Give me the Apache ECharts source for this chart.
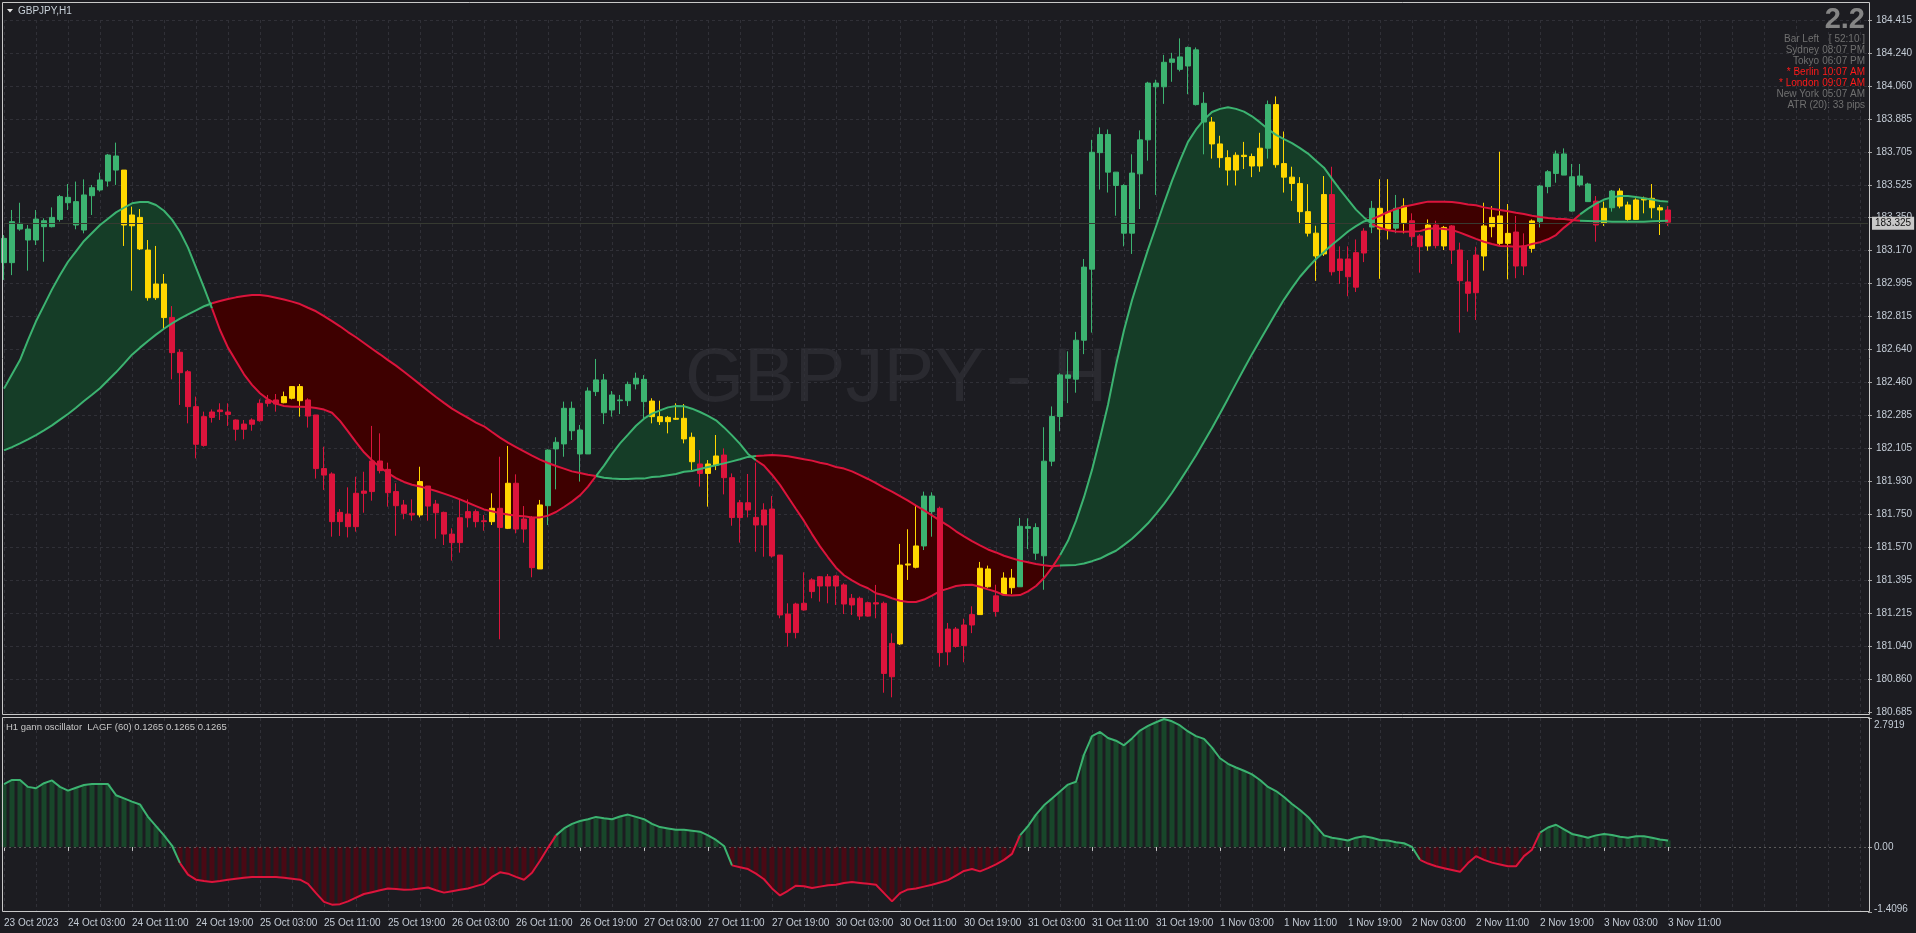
<!DOCTYPE html>
<html>
<head>
<meta charset="utf-8">
<script src="https://cdn.jsdelivr.net/npm/echarts@6.0.0/dist/echarts.min.js"></script>
<style>
html,body{margin:0;padding:0;background:#1c1c21;overflow:hidden;}
#chart{width:1916px;height:933px;}
</style>
</head>
<body>
<div id="chart"></div>
<script>
// ---------------- DATA ----------------
const timeLabels = ['23 Oct 2023','24 Oct 03:00','24 Oct 11:00','24 Oct 19:00','25 Oct 03:00','25 Oct 11:00','25 Oct 19:00',
  '26 Oct 03:00','26 Oct 11:00','26 Oct 19:00','27 Oct 03:00','27 Oct 11:00','27 Oct 19:00','30 Oct 03:00','30 Oct 11:00',
  '30 Oct 19:00','31 Oct 03:00','31 Oct 11:00','31 Oct 19:00','1 Nov 03:00','1 Nov 11:00','1 Nov 19:00','2 Nov 03:00',
  '2 Nov 11:00','2 Nov 19:00','3 Nov 03:00','3 Nov 11:00'];

const priceTicks = ['180.685','180.860','181.040','181.215','181.395','181.570','181.750','181.930','182.105','182.285',
  '182.460','182.640','182.815','182.995','183.170','183.350','183.525','183.705','183.885','184.060','184.240','184.415'];

const oscTickValues = [-1.4096, 0, 2.7919];
const oscTickLabels = ['-1.4096', '0.00', '2.7919'];

const opens = [183.107,183.107,183.288,183.229,183.229,183.301,183.301,183.340,183.430,183.310,
183.283,183.468,183.499,183.547,183.606,183.606,183.306,183.351,183.175,182.918,
182.992,182.812,182.624,182.519,182.331,182.122,182.273,182.304,182.302,182.259,
182.209,182.236,182.255,182.349,182.367,182.352,182.376,182.439,182.367,182.286,
181.997,181.968,181.711,181.752,181.684,181.864,181.873,182.038,181.993,181.873,
181.801,181.756,181.747,181.903,181.806,181.761,181.644,181.598,181.732,181.765,
181.716,181.711,181.783,181.675,181.918,181.725,181.734,181.456,181.797,182.103,
182.130,182.201,182.076,182.076,182.412,182.475,182.313,182.363,182.363,182.453,
182.478,182.361,182.277,182.250,182.263,182.268,182.166,182.022,181.971,182.016,
182.070,181.948,181.733,181.813,181.734,181.693,181.779,181.531,181.213,181.113,
181.235,181.334,181.364,181.414,181.364,181.370,181.262,181.298,181.202,181.274,
181.271,180.875,181.052,181.477,181.465,181.580,181.849,181.783,181.009,181.132,
181.043,181.154,181.210,181.360,181.311,181.317,181.355,181.360,181.675,181.679,
181.527,182.037,182.278,182.484,182.479,182.689,183.072,183.700,183.798,183.595,
183.523,183.266,183.586,183.769,184.075,184.055,184.187,184.149,184.167,184.254,
183.966,183.865,183.747,183.673,183.606,183.686,183.679,183.628,183.724,183.959,
183.641,183.568,183.534,183.382,183.266,183.154,183.474,183.065,183.127,182.975,
183.159,183.299,183.400,183.288,183.293,183.323,183.333,183.251,183.197,183.310,
183.197,183.305,183.175,183.003,182.945,183.143,183.301,183.359,183.211,183.272,
183.089,183.184,183.328,183.517,183.588,183.693,183.570,183.526,183.531,183.439,
183.319,183.403,183.493,183.418,183.340,183.445,183.454,183.403,183.391];

const closes = [183.238,183.328,183.319,183.288,183.342,183.333,183.351,183.463,183.459,183.436,
183.472,183.511,183.553,183.687,183.682,183.310,183.364,183.181,182.918,182.992,
182.811,182.622,182.514,182.331,182.128,182.277,182.302,182.313,182.289,182.209,
182.237,182.259,182.349,182.367,182.345,182.385,182.439,182.363,182.280,181.997,
181.962,181.711,181.761,181.684,181.864,181.876,182.038,181.986,181.867,181.797,
181.756,181.747,181.927,181.795,181.759,181.644,181.598,181.732,181.765,181.711,
181.711,181.783,181.680,181.918,181.671,181.671,181.463,181.801,182.097,182.139,
182.322,182.322,182.205,182.415,182.475,182.298,182.394,182.367,182.451,182.484,
182.358,182.277,182.250,182.273,182.268,182.157,182.034,181.971,182.022,182.065,
181.948,181.733,181.813,181.774,181.693,181.774,181.526,181.208,181.113,181.267,
181.271,181.397,181.414,181.364,181.418,181.267,181.298,181.202,181.274,181.267,
180.893,181.055,181.477,181.483,181.580,181.849,181.765,181.005,181.132,181.038,
181.154,181.210,181.460,181.456,181.226,181.407,181.407,181.686,181.684,181.541,
182.037,182.278,182.502,182.502,182.689,183.083,183.702,183.798,183.595,183.523,
183.266,183.590,183.769,184.075,184.055,184.187,184.205,184.216,184.267,183.959,
183.865,183.747,183.673,183.606,183.686,183.679,183.628,183.724,183.959,183.635,
183.568,183.534,183.382,183.266,183.143,183.474,183.058,183.127,183.031,183.161,
183.277,183.400,183.288,183.378,183.400,183.412,183.247,183.193,183.310,183.199,
183.297,183.175,183.010,182.942,183.148,183.305,183.351,183.211,183.265,183.089,
183.197,183.332,183.520,183.597,183.693,183.579,183.385,183.574,183.436,183.310,
183.400,183.493,183.412,183.340,183.445,183.454,183.403,183.391,183.325];

const lows = [183.014,183.040,183.279,183.064,183.202,183.112,183.297,183.328,183.391,183.287,
183.265,183.364,183.490,183.517,183.526,183.197,182.956,183.175,182.902,182.906,
182.744,182.478,182.340,182.241,182.052,182.115,182.245,182.259,182.227,182.148,
182.155,182.201,182.250,182.331,182.304,182.349,182.370,182.277,182.218,181.943,
181.882,181.630,181.634,181.626,181.657,181.759,181.824,181.971,181.792,181.635,
181.724,181.716,181.734,181.716,181.619,181.585,181.501,181.544,181.680,181.680,
181.662,181.693,181.077,181.671,181.648,181.598,181.411,181.456,181.693,181.885,
182.061,182.151,181.927,182.076,182.388,182.237,182.277,182.291,182.334,182.424,
182.268,182.241,182.232,182.187,182.259,182.133,181.989,181.900,181.792,181.989,
181.858,181.689,181.598,181.734,181.549,181.522,181.517,181.190,181.037,181.082,
181.231,181.298,181.280,181.271,181.262,181.213,181.208,181.181,181.199,181.190,
180.789,180.764,181.046,181.397,181.459,181.558,181.630,180.929,180.937,181.031,
180.953,181.110,181.210,181.355,181.199,181.317,181.322,181.360,181.563,181.505,
181.344,182.010,182.198,182.350,182.406,182.614,182.730,183.501,183.485,183.360,
183.195,183.154,183.396,183.657,183.472,183.963,184.082,184.138,184.015,183.954,
183.691,183.668,183.619,183.523,183.523,183.612,183.568,183.597,183.668,183.619,
183.485,183.440,183.315,183.248,183.009,183.143,183.038,182.993,182.926,182.949,
183.110,183.266,183.020,183.232,183.266,183.265,183.197,183.053,183.172,183.184,
183.175,183.100,182.730,182.843,182.798,183.064,183.244,183.202,183.017,183.023,
183.040,183.161,183.297,183.481,183.538,183.579,183.382,183.517,183.436,183.220,
183.305,183.382,183.400,183.333,183.337,183.373,183.346,183.256,183.305];

const highs = [183.256,183.391,183.430,183.310,183.391,183.346,183.405,183.472,183.531,183.544,
183.556,183.526,183.592,183.693,183.754,183.606,183.409,183.396,183.229,183.197,
183.046,182.873,182.640,182.528,182.385,182.304,182.316,182.349,182.349,182.262,
182.259,182.268,182.370,182.394,182.399,182.412,182.442,182.453,182.376,182.286,
182.115,181.977,181.779,181.896,181.953,181.980,182.227,182.187,182.029,181.918,
181.828,181.831,182.007,181.903,181.828,181.765,181.675,181.828,181.831,181.777,
181.747,181.864,182.061,182.119,181.966,181.795,181.741,181.828,182.101,182.166,
182.358,182.358,182.232,182.435,182.588,182.507,182.415,182.394,182.466,182.514,
182.501,182.376,182.363,182.281,182.349,182.345,182.191,182.097,182.043,182.178,
182.106,181.971,181.828,181.968,182.029,181.810,181.849,181.531,181.271,181.274,
181.438,181.406,181.418,181.429,181.423,181.379,181.321,181.307,181.280,181.370,
181.280,181.109,181.591,181.670,181.801,181.873,181.869,181.792,181.165,181.143,
181.188,181.255,181.494,181.474,181.371,181.438,181.456,181.731,181.729,181.702,
182.220,182.332,182.511,182.629,182.734,183.127,183.769,183.836,183.825,183.595,
183.530,183.691,183.820,184.082,184.093,184.227,184.238,184.316,184.272,184.267,
184.026,183.892,183.791,183.713,183.702,183.758,183.695,183.807,183.981,184.003,
183.814,183.624,183.568,183.530,183.306,183.574,183.624,183.195,183.195,183.232,
183.293,183.440,183.557,183.557,183.472,183.454,183.373,183.261,183.340,183.333,
183.305,183.310,183.215,183.121,183.193,183.430,183.412,183.705,183.423,183.359,
183.265,183.340,183.526,183.606,183.711,183.723,183.639,183.639,183.538,183.466,
183.436,183.499,183.508,183.436,183.454,183.463,183.531,183.418,183.412];

// candle colour class per bar, as runs: g = green, y = yellow, r = red
const candleColorRuns = [['g',15],['y',6],['r',14],['y',3],['r',14],['y',1],['r',8],['y',1],['r',1],['y',1],['r',3],['y',1],
  ['g',13],['y',6],['r',1],['y',2],['r',22],['y',3],['g',2],['r',5],['y',2],['r',1],['y',2],['g',24],['y',7],['g',1],['y',7],
  ['r',5],['g',1],['y',2],['g',1],['y',1],['r',2],['y',1],['r',1],['y',1],['r',4],['y',4],['r',2],['y',1],['g',7],['r',1],
  ['y',1],['g',1],['y',6],['r',1]];

const fastLine = [182.428,182.505,182.582,182.690,182.791,182.877,182.963,183.040,183.112,183.168,
183.224,183.267,183.310,183.344,183.378,183.403,183.427,183.434,183.434,183.418,
183.387,183.339,183.274,183.188,183.080,182.972,182.861,182.744,182.649,182.577,
182.505,182.448,182.403,182.370,182.347,182.334,182.331,182.331,182.329,182.324,
182.315,182.298,182.254,182.198,182.140,182.085,182.042,182.004,181.973,181.946,
181.925,181.910,181.900,181.889,181.876,181.862,181.847,181.831,181.813,181.795,
181.777,181.767,181.756,181.749,181.743,181.740,181.734,181.734,181.743,181.763,
181.790,181.819,181.853,181.900,181.957,182.013,182.076,182.133,182.180,182.228,
182.266,182.293,182.311,182.327,182.334,182.333,182.320,182.302,182.281,182.257,
182.219,182.176,182.130,182.076,182.042,182.013,181.964,181.909,181.844,181.779,
181.715,181.644,181.578,181.519,181.463,181.422,181.395,181.370,181.352,181.325,
181.314,181.298,181.285,181.278,181.278,181.291,181.312,181.337,181.350,181.364,
181.369,181.371,181.360,181.346,181.333,181.315,181.313,181.315,181.335,181.364,
181.407,181.463,181.530,181.608,181.715,181.843,181.990,182.160,182.341,182.555,
182.743,182.904,183.043,183.177,183.302,183.427,183.548,183.657,183.758,183.825,
183.878,183.919,183.936,183.945,183.936,183.921,183.896,183.863,183.827,183.796,
183.773,183.751,183.724,183.695,183.657,183.619,183.559,183.501,183.447,183.393,
183.351,183.315,183.295,183.282,183.275,183.273,183.275,183.277,183.290,183.292,
183.288,183.283,183.269,183.252,183.235,183.220,183.208,183.197,183.195,183.193,
183.195,183.208,183.217,183.233,183.256,183.296,183.330,183.367,183.398,183.425,
183.447,183.459,183.466,183.466,183.461,183.454,183.447,183.439,183.436];

const slowLine = [182.095,182.113,182.133,182.155,182.178,182.203,182.230,182.261,182.291,182.325,
182.361,182.395,182.430,182.473,182.516,182.563,182.611,182.649,182.685,182.719,
182.751,182.780,182.805,182.828,182.850,182.872,182.888,182.900,182.911,182.920,
182.927,182.933,182.933,182.927,182.918,182.908,182.897,182.884,182.864,182.845,
182.819,182.792,182.764,182.733,182.705,182.674,182.643,182.613,182.582,182.552,
182.519,182.485,182.451,182.417,182.383,182.351,182.320,182.295,182.270,182.245,
182.225,182.194,182.164,182.137,182.113,182.090,182.067,182.045,182.027,182.011,
181.997,181.982,181.973,181.964,181.957,181.948,181.943,181.941,181.941,181.943,
181.943,181.952,181.954,181.961,181.968,181.980,181.984,181.995,182.006,182.015,
182.025,182.036,182.047,182.060,182.065,182.067,182.070,182.067,182.063,182.056,
182.047,182.040,182.029,182.020,182.006,181.997,181.982,181.962,181.941,181.919,
181.894,181.873,181.849,181.824,181.797,181.772,181.745,181.717,181.690,181.659,
181.632,181.606,181.583,181.561,181.545,181.527,181.514,181.501,181.492,181.483,
181.476,181.471,181.474,181.476,181.478,181.485,181.498,181.512,181.534,181.554,
181.586,181.619,181.659,181.702,181.753,181.807,181.867,181.932,181.999,182.068,
182.142,182.216,182.294,182.374,182.455,182.535,182.614,182.689,182.763,182.837,
182.908,182.971,183.031,183.081,183.127,183.165,183.203,183.239,183.275,183.304,
183.329,183.342,183.360,183.380,183.396,183.409,183.418,183.427,183.436,183.436,
183.436,183.434,183.429,183.421,183.416,183.405,183.398,183.391,183.384,183.376,
183.369,183.360,183.353,183.348,183.344,183.342,183.337,183.333,183.332,183.330,
183.330,183.328,183.328,183.328,183.328,183.328,183.330,183.332,183.333];

const oscValues = [1.36,1.45,1.45,1.3,1.27,1.38,1.44,1.3,1.22,1.28,
1.34,1.36,1.36,1.36,1.12,1.05,0.98,0.92,0.65,0.45,
0.25,0.03,-0.35,-0.6,-0.71,-0.74,-0.76,-0.74,-0.71,-0.69,
-0.67,-0.65,-0.65,-0.65,-0.65,-0.67,-0.69,-0.71,-0.8,-1.0,
-1.19,-1.25,-1.24,-1.18,-1.1,-1.02,-0.98,-0.94,-0.9,-0.91,
-0.93,-0.92,-0.9,-0.88,-0.94,-0.99,-0.96,-0.93,-0.9,-0.85,
-0.8,-0.65,-0.55,-0.58,-0.65,-0.71,-0.56,-0.3,-0.02,0.25,
0.4,0.5,0.56,0.6,0.65,0.62,0.6,0.66,0.7,0.65,
0.6,0.5,0.43,0.4,0.37,0.37,0.35,0.33,0.25,0.15,
0.02,-0.4,-0.44,-0.48,-0.58,-0.7,-0.9,-1.05,-0.95,-0.84,
-0.85,-0.89,-0.86,-0.83,-0.82,-0.78,-0.76,-0.78,-0.8,-0.82,
-1.0,-1.18,-1.0,-0.92,-0.9,-0.86,-0.82,-0.77,-0.72,-0.62,
-0.52,-0.48,-0.53,-0.46,-0.38,-0.28,-0.15,0.25,0.45,0.7,
0.9,1.05,1.2,1.35,1.41,2.0,2.4,2.49,2.36,2.3,
2.2,2.35,2.52,2.62,2.7,2.77,2.72,2.63,2.5,2.4,
2.34,2.15,1.92,1.8,1.72,1.65,1.57,1.45,1.3,1.21,
1.08,0.93,0.8,0.65,0.45,0.25,0.2,0.17,0.14,0.2,
0.23,0.2,0.15,0.14,0.1,0.08,0,-0.28,-0.36,-0.42,
-0.46,-0.5,-0.54,-0.35,-0.2,-0.28,-0.34,-0.38,-0.42,-0.42,
-0.2,-0.06,0.31,0.42,0.48,0.38,0.28,0.24,0.2,0.25,
0.28,0.26,0.22,0.2,0.23,0.23,0.2,0.16,0.14];

const infoRows = [
  ['Bar Left', '[ 52:10 ]', false],
  ['Sydney', '08:07 PM', false],
  ['Tokyo', '06:07 PM', false],
  ['* Berlin', '10:07 AM', true],
  ['* London', '09:07 AM', true],
  ['New York', '05:07 AM', false]
];
const atrText = 'ATR (20): 33 pips';
const spreadText = '2.2';
const symbolTitle = 'GBPJPY,H1';
const watermarkText = 'GBPJPY - H1';
const oscTitle = 'H1 gann oscillator  LAGF (60) 0.1265 0.1265 0.1265';

// ---------------- BUILD ----------------
const N_SLOTS = 234;           // bars + empty right shift area
const slots = Array.from({length: N_SLOTS}, (_, i) => String(i));
const PMIN = parseFloat(priceTicks[0]);
const PMAX = parseFloat(priceTicks[priceTicks.length - 1]);
const PSTEP = (PMAX - PMIN) / (priceTicks.length - 1);

const COL = {g: '#3cb371', y: '#ffd700', r: '#dc143c'};
const candleColors = candleColorRuns.map(([c, n]) => c.repeat(n)).join('');
const candleData = opens.map((o, i) => {
  const c = COL[candleColors[i]] || COL.r;
  return {value: [o, closes[i], lows[i], highs[i]],
    itemStyle: {color: c, color0: c, borderColor: c, borderColor0: c}};
});

const bandBase = fastLine.map((f, i) => Math.min(f, slowLine[i]));
const bandUp = fastLine.map((f, i) => Math.max(f - slowLine[i], 0));
const bandDn = fastLine.map((f, i) => Math.max(slowLine[i] - f, 0));
const isUp = fastLine.map((f, i) => f >= slowLine[i]);
const segBy = (arr, state, up) => arr.map((v, i) => (state[i] === up || (i > 0 && state[i - 1] === up)) ? v : null);
const oscPos = oscValues.map(v => v >= 0);

const labelAt = i => (i % 8 === 0 && i / 8 < timeLabels.length) ? timeLabels[i / 8] : '';
const FONT = "'Liberation Sans', Arial, sans-serif";
const AXIS_TXT = '#c4ccd6';
const GRID_LINE = '#303037';
const GRID_DASH = [3, 3];

const lineSeries = (name, data, color, xi) => ({
  name, type: 'line', xAxisIndex: xi, yAxisIndex: xi, data, showSymbol: false, symbol: 'none',
  connectNulls: false, silent: true, z: 5, lineStyle: {color, width: 2}
});
const bandSeries = (name, data, fill) => ({
  name, type: 'line', xAxisIndex: 0, yAxisIndex: 0, data, stack: 'band', showSymbol: false, symbol: 'none',
  silent: true, z: 1, lineStyle: {width: 0, opacity: 0},
  areaStyle: fill ? {color: fill, opacity: 1} : undefined
});

const graphics = [];
graphics.push({type: 'text', left: 685, top: 342, z: 0, silent: true,
  style: {text: watermarkText, fill: '#2a2a30', font: "76px 'Liberation Sans', Arial, sans-serif"}});
graphics.push({type: 'polygon', z: 50, silent: true, shape: {points: [[7, 9], [13, 9], [10, 12.5]]}, style: {fill: '#e6e6e6'}});
graphics.push({type: 'text', x: 18, y: 11, z: 50, silent: true,
  style: {text: symbolTitle, fill: '#c8d0d8', font: "10px " + FONT, textVerticalAlign: 'middle'}});
graphics.push({type: 'text', x: 1865, y: 20, z: 50, silent: true,
  style: {text: spreadText, fill: '#858585', font: "bold 29px " + FONT, textAlign: 'right', textVerticalAlign: 'middle'}});
infoRows.forEach((r, k) => {
  const y = 39 + k * 11;
  const fill = r[2] ? '#ff1a1a' : '#707070';
  graphics.push({type: 'text', x: 1819, y, z: 50, silent: true,
    style: {text: r[0], fill, font: "10px " + FONT, textAlign: 'right', textVerticalAlign: 'middle'}});
  graphics.push({type: 'text', x: 1865, y, z: 50, silent: true,
    style: {text: r[1], fill, font: "10px " + FONT, textAlign: 'right', textVerticalAlign: 'middle'}});
});
graphics.push({type: 'text', x: 1865, y: 105, z: 50, silent: true,
  style: {text: atrText, fill: '#707070', font: "10px " + FONT, textAlign: 'right', textVerticalAlign: 'middle'}});
graphics.push({type: 'text', x: 6, y: 727, z: 50, silent: true,
  style: {text: oscTitle, fill: '#c8c8c8', font: "9.5px " + FONT, textVerticalAlign: 'middle'}});
graphics.push({type: 'rect', z: 100, silent: true, shape: {x: 2.5, y: 2.5, width: 1867, height: 712},
  style: {fill: 'none', stroke: '#c8c8c8', lineWidth: 1}});
graphics.push({type: 'rect', z: 100, silent: true, shape: {x: 2.5, y: 717.5, width: 1867, height: 194},
  style: {fill: 'none', stroke: '#c8c8c8', lineWidth: 1}});

const option = {
  backgroundColor: '#1c1c21',
  animation: false,
  textStyle: {fontFamily: FONT},
  grid: [
    {left: 4, top: 20, width: 1864, height: 692},
    {left: 4, top: 718, width: 1864, height: 194}
  ],
  xAxis: [
    {type: 'category', gridIndex: 0, data: slots, boundaryGap: false,
      axisLine: {show: false}, axisTick: {show: false}, axisLabel: {show: false},
      splitLine: {show: true, interval: (i) => i % 4 === 0, lineStyle: {color: GRID_LINE, type: GRID_DASH, width: 1}}},
    {type: 'category', gridIndex: 1, data: slots, boundaryGap: false,
      axisLine: {show: false},
      axisTick: {show: true, interval: (i) => labelAt(i) !== '', length: 4, lineStyle: {color: '#c8c8c8'}},
      axisLabel: {show: true, interval: (i) => labelAt(i) !== '', formatter: (v, i) => labelAt(i),
        align: 'left', margin: 6, color: AXIS_TXT, fontSize: 10, fontFamily: FONT},
      splitLine: {show: true, interval: (i) => i % 4 === 0, lineStyle: {color: GRID_LINE, type: GRID_DASH, width: 1}}}
  ],
  yAxis: [
    {type: 'value', gridIndex: 0, position: 'right', min: PMIN, max: PMAX, interval: PSTEP,
      axisLine: {show: false},
      axisTick: {show: true, length: 4, lineStyle: {color: '#a0a0a0'}},
      axisLabel: {color: AXIS_TXT, fontSize: 10, margin: 8, fontFamily: FONT,
        formatter: (v) => { const k = Math.round((v - PMIN) / PSTEP); return priceTicks[k] || ''; }},
      splitLine: {show: true, lineStyle: {color: GRID_LINE, type: GRID_DASH, width: 1}}},
    {type: 'value', gridIndex: 1, position: 'right', min: oscTickValues[0], max: oscTickValues[2],
      axisLine: {show: false},
      axisTick: {show: true, customValues: oscTickValues, length: 4, lineStyle: {color: '#a0a0a0'}},
      axisLabel: {customValues: oscTickValues, color: AXIS_TXT, fontSize: 10, margin: 6, fontFamily: FONT,
        formatter: (v) => {
          const k = oscTickValues.findIndex(t => Math.abs(t - v) < 1e-6);
          if (k === 2) return '{t|' + oscTickLabels[2] + '}';
          if (k === 0) return '{b|' + oscTickLabels[0] + '}';
          return oscTickLabels[1];
        },
        rich: {t: {padding: [14, 0, 0, 0], color: AXIS_TXT, fontSize: 10}, b: {padding: [0, 0, 6, 0], color: AXIS_TXT, fontSize: 10}}},
      splitLine: {show: false}}
  ],
  graphic: graphics,
  series: [
    bandSeries('bandBase', bandBase, null),
    bandSeries('bandUp', bandUp, '#153d27'),
    bandSeries('bandDn', bandDn, '#3e0000'),
    {name: 'GBPJPY', type: 'candlestick', xAxisIndex: 0, yAxisIndex: 0, data: candleData, barWidth: 6, z: 3, silent: true,
      itemStyle: {borderWidth: 1},
      markLine: {silent: true, symbol: ['none', 'none'], animation: false,
        data: [{yAxis: closes[closes.length - 1]}],
        lineStyle: {color: '#363a31', width: 1, type: 'solid'},
        label: {show: true, position: 'end', distance: 4, formatter: () => closes[closes.length - 1].toFixed(3),
          backgroundColor: '#c8c8c8', color: '#111', padding: [2, 3, 1, 3], fontSize: 10, fontFamily: FONT}}},
    lineSeries('fastUp', segBy(fastLine, isUp, true), '#3cb371', 0),
    lineSeries('fastDn', segBy(fastLine, isUp, false), '#dc143c', 0),
    lineSeries('slowUp', segBy(slowLine, isUp, true), '#3cb371', 0),
    lineSeries('slowDn', segBy(slowLine, isUp, false), '#dc143c', 0),
    {name: 'oscHist', type: 'bar', xAxisIndex: 1, yAxisIndex: 1, barWidth: 5, silent: true, z: 2,
      data: oscValues,
      itemStyle: {color: (p) => p.value >= 0 ? '#18462a' : '#4a0914'},
      markLine: {silent: true, symbol: ['none', 'none'], label: {show: false}, animation: false,
        data: [{yAxis: 0}], lineStyle: {color: '#5a5a5a', type: [2, 3], width: 1}}},
    lineSeries('oscUp', segBy(oscValues, oscPos, true), '#3cb371', 1),
    lineSeries('oscDn', segBy(oscValues, oscPos, false), '#dc143c', 1)
  ]
};

const chart = echarts.init(document.getElementById('chart'), null, {renderer: 'canvas'});
chart.setOption(option);
</script>
</body>
</html>
